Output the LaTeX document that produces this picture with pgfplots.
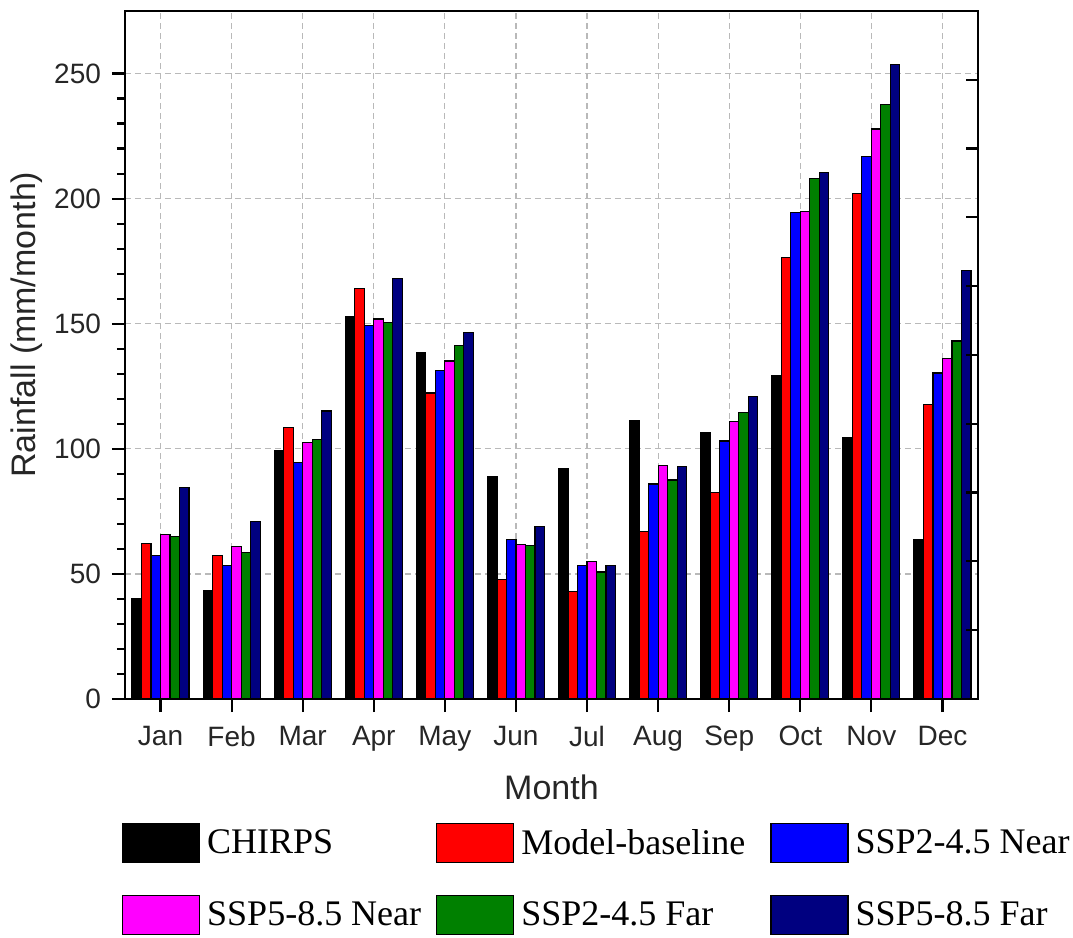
\documentclass[border=0pt]{standalone}
\usepackage{fontspec}
\setmainfont{Liberation Sans}
\newfontfamily\legfont{Liberation Serif}
\usepackage{pgfplots}
\pgfplotsset{compat=1.18}
\definecolor{cnavy}{RGB}{0,0,128}
\definecolor{cgreen}{RGB}{0,128,0}
\definecolor{cmag}{RGB}{255,0,255}
\definecolor{cblue}{RGB}{0,0,255}
\definecolor{cred}{RGB}{255,0,0}
\begin{document}
\begin{tikzpicture}
\begin{axis}[
  scale only axis, width=426.5pt, height=344pt,
  xmin=-0.5, xmax=11.5, ymin=0, ymax=275,
  ybar=0pt, bar width=4.75pt,
  legend image code/.code={\draw[#1] (0pt,-9.75pt) rectangle (38.5pt,9.75pt);},
  xtick={0,...,11},
  xticklabels={Jan,Feb,Mar,Apr,May,Jun,Jul,Aug,Sep,Oct,Nov,Dec},
  ytick={0,50,100,150,200,250},
  minor y tick num=4,
  xtick pos=bottom, ytick pos=left,
  tick align=outside,
  major tick length=6.5pt, minor tick length=4pt,
  every tick/.style={black, line width=1.1pt},
  axis line style={line width=1.4pt},
  xmajorgrids, ymajorgrids,
  major grid style={dash pattern=on 3pt off 2pt, gray!55, line width=0.6pt},
  /pgf/number format/assume math mode=true,
  tick label style={font=\fontsize{14}{16}\selectfont, text=black!85},
  xticklabel style={yshift=-3.5pt},
  yticklabel style={xshift=-2pt},
  xlabel={Month}, ylabel={Rainfall (mm/month)},
  label style={font=\fontsize{17}{19}\selectfont, text=black!85},
  xlabel style={at={(axis description cs:0.5,-0.128)}, anchor=center},
  ylabel style={at={(axis description cs:-0.115,0.544)}, anchor=center, rotate=0},
  legend columns=3,
  legend style={at={(axis description cs:-0.0035,-0.1802)}, anchor=north west,
    draw=none, fill=none, inner sep=0pt, outer sep=0pt,
    font=\legfont\fontsize{18}{20}\selectfont,
    cells={anchor=west},
    nodes={inner sep=0pt},
    /tikz/every odd column/.append style={column sep=3.5pt},
    /tikz/every even column/.append style={column sep=7.5pt},
    /tikz/row sep=16pt},
  every axis plot/.append style={draw=black, line width=0.6pt},
]
\addplot[fill=black] coordinates {(0,40.2)(1,43.3)(2,99.4)(3,153.0)(4,138.5)(5,88.8)(6,92.1)(7,111.1)(8,106.5)(9,129.1)(10,104.4)(11,63.8)};
\addplot[fill=cred] coordinates {(0,62.2)(1,57.2)(2,108.5)(3,164.0)(4,122.3)(5,47.9)(6,43.1)(7,67.1)(8,82.4)(9,176.4)(10,202.2)(11,117.6)};
\addplot[fill=cblue] coordinates {(0,57.2)(1,53.5)(2,94.5)(3,149.4)(4,131.4)(5,63.8)(6,53.5)(7,85.9)(8,103.1)(9,194.4)(10,216.9)(11,130.3)};
\addplot[fill=cmag] coordinates {(0,65.6)(1,60.8)(2,102.4)(3,151.9)(4,135.1)(5,61.6)(6,55.0)(7,93.3)(8,110.9)(9,194.9)(10,227.8)(11,136.1)};
\addplot[fill=cgreen] coordinates {(0,64.8)(1,58.4)(2,103.7)(3,150.4)(4,141.4)(5,61.4)(6,50.8)(7,87.5)(8,114.6)(9,208.2)(10,237.6)(11,143.1)};
\addplot[fill=cnavy] coordinates {(0,84.5)(1,71.1)(2,115.1)(3,168.0)(4,146.4)(5,68.8)(6,53.4)(7,92.8)(8,121.0)(9,210.3)(10,253.5)(11,171.3)};
\legend{CHIRPS,{Model-baseline\rule{5pt}{0pt}},SSP2-4.5 Near,SSP5-8.5 Near,SSP2-4.5 Far,SSP5-8.5 Far}
\end{axis}
\begin{axis}[
  scale only axis, width=426.5pt, height=344pt,
  xmin=-0.5, xmax=11.5, ymin=0, ymax=275,
  hide x axis, axis y line*=right,
  ytick={27.5,55,82.5,110,137.5,165,192.5,220,247.5},
  yticklabels={},
  ytick align=inside,
  major tick length=6pt,
  every tick/.style={black, line width=1.1pt},
  axis line style={line width=1.4pt},
]
\addplot[draw=none] coordinates {(0,0)};
\end{axis}
\path[use as bounding box] (-62.5pt,-119.5pt) rectangle (474pt,349.5pt);
\end{tikzpicture}
\end{document}
